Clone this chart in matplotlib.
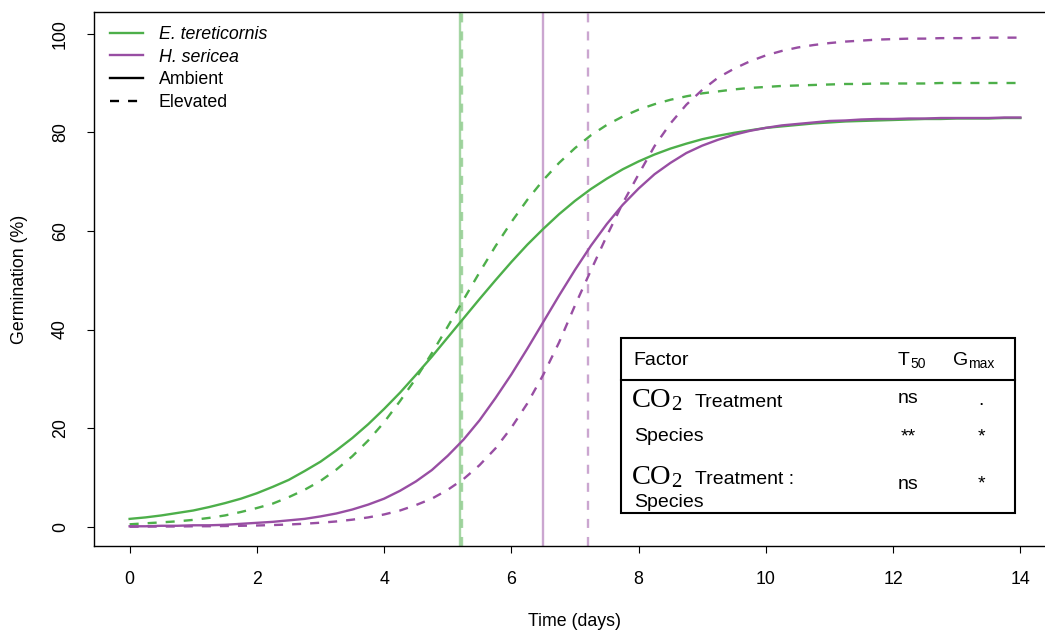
import matplotlib
matplotlib.use('Agg')
import matplotlib.pyplot as plt
from matplotlib.lines import Line2D
from matplotlib.patches import Rectangle

# ---------------- data ----------------
days = [0, 0.25, 0.5, 0.75, 1, 1.25, 1.5, 1.75, 2, 2.25, 2.5, 2.75, 3, 3.25,
        3.5, 3.75, 4, 4.25, 4.5, 4.75, 5, 5.25, 5.5, 5.75, 6, 6.25, 6.5, 6.75,
        7, 7.25, 7.5, 7.75, 8, 8.25, 8.5, 8.75, 9, 9.25, 9.5, 9.75, 10, 10.25,
        10.5, 10.75, 11, 11.25, 11.5, 11.75, 12, 12.25, 12.5, 12.75, 13, 13.25,
        13.5, 13.75, 14]

et_ambient = [1.6, 1.9, 2.3, 2.8, 3.3, 4.0, 4.8, 5.7, 6.8, 8.1, 9.5, 11.3, 13.2,
              15.5, 18.0, 20.8, 23.9, 27.2, 30.8, 34.5, 38.4, 42.3, 46.2, 50.0,
              53.7, 57.2, 60.4, 63.4, 66.1, 68.5, 70.6, 72.5, 74.1, 75.5, 76.7,
              77.7, 78.6, 79.3, 79.9, 80.4, 80.9, 81.2, 81.5, 81.8, 82.0, 82.2,
              82.3, 82.4, 82.5, 82.6, 82.7, 82.7, 82.8, 82.8, 82.8, 82.9, 82.9]
et_elevated = [0.5, 0.7, 0.9, 1.1, 1.4, 1.8, 2.3, 3.0, 3.8, 4.7, 6.0, 7.5, 9.3,
               11.6, 14.3, 17.5, 21.2, 25.5, 30.1, 35.2, 40.6, 46.1, 51.6, 56.9,
               61.8, 66.3, 70.3, 73.8, 76.8, 79.4, 81.5, 83.2, 84.6, 85.7, 86.6,
               87.3, 87.9, 88.3, 88.7, 89.0, 89.2, 89.4, 89.5, 89.6, 89.7, 89.8,
               89.8, 89.9, 89.9, 89.9, 89.9, 90.0, 90.0, 90.0, 90.0, 90.0, 90.0]
hs_ambient = [0.1, 0.1, 0.2, 0.2, 0.3, 0.3, 0.4, 0.6, 0.8, 1.0, 1.3, 1.6, 2.1,
              2.7, 3.5, 4.5, 5.7, 7.3, 9.2, 11.5, 14.4, 17.7, 21.6, 26.1, 30.9,
              36.1, 41.5, 46.9, 52.1, 57.0, 61.4, 65.3, 68.6, 71.5, 73.8, 75.8,
              77.3, 78.5, 79.5, 80.3, 80.9, 81.4, 81.7, 82.0, 82.3, 82.4, 82.6,
              82.7, 82.7, 82.8, 82.8, 82.9, 82.9, 82.9, 82.9, 83.0, 83.0]
hs_elevated = [0.0, 0.04, 0.05, 0.06, 0.1, 0.11, 0.15, 0.2, 0.26, 0.35, 0.46,
               0.62, 0.82, 1.08, 1.44, 1.9, 2.5, 3.3, 4.4, 5.7, 7.5, 9.7, 12.5,
               15.9, 20.1, 25.0, 30.8, 37.4, 44.9, 52.0, 59.0, 65.6, 71.5, 77.2,
               81.8, 85.6, 88.6, 91.1, 92.9, 94.4, 95.6, 96.5, 97.2, 97.7, 98.1,
               98.4, 98.6, 98.8, 98.9, 99.0, 99.0, 99.1, 99.1, 99.1, 99.2, 99.2,
               99.2]

# T50 (days) for each curve
t50_et_ambient = 5.2
t50_et_elevated = 5.22
t50_hs_ambient = 6.5
t50_hs_elevated = 7.2

x_ticks = [0, 2, 4, 6, 8, 10, 12, 14]
y_ticks = [0, 20, 40, 60, 80, 100]

legend_labels = ['E. tereticornis', 'H. sericea', 'Ambient', 'Elevated']

table_t50 = ['ns', '**', 'ns']
table_gmax = ['.', '*', '*']

# ---------------- figure ----------------
GREEN = '#4DAF4A'
PURPLE = '#984EA3'
plt.rcParams['lines.scale_dashes'] = False
plt.rcParams['font.family'] = ['Liberation Sans', 'DejaVu Sans']
DASH = (0, (6.5, 6.5))
LW = 1.7
FS = 12.8

W, H = 1045, 635
fig = plt.figure(figsize=(W / 100, H / 100), dpi=100)


def fx(x):
    return x / W


def fy(y):
    return 1 - y / H


ax = fig.add_axes([fx(94), fy(546), (1056 - 94) / W, (546 - 12) / H])
ax.set_xlim(-0.56, 14.56)
ax.set_ylim(-3.9, 104.4)

# T50 vertical lines
ax.axvline(t50_et_ambient, color=GREEN, alpha=0.5, lw=LW)
ax.axvline(t50_et_elevated, color=GREEN, alpha=0.5, lw=LW, ls=DASH)
ax.axvline(t50_hs_ambient, color=PURPLE, alpha=0.5, lw=LW)
ax.axvline(t50_hs_elevated, color=PURPLE, alpha=0.5, lw=LW, ls=DASH)

# curves
ax.plot(days, et_ambient, color=GREEN, lw=LW)
ax.plot(days, et_elevated, color=GREEN, lw=LW, ls=DASH)
ax.plot(days, hs_ambient, color=PURPLE, lw=LW)
ax.plot(days, hs_elevated, color=PURPLE, lw=LW, ls=DASH)

# axes styling
for s in ax.spines.values():
    s.set_linewidth(1.0)
ax.spines['right'].set_visible(False)
ax.set_xticks(x_ticks)
ax.set_yticks(y_ticks)
ax.tick_params(direction='out', length=5, width=0.8, labelsize=FS, pad=13)
for lab in ax.get_yticklabels():
    lab.set_rotation(90)
    lab.set_va('center')

ax.set_xlabel('Time (days)', fontsize=FS, va='center')
ax.xaxis.set_label_coords(0.5, (546 - 622) / 534)
ax.set_ylabel('Germination (%)', fontsize=FS, va='center', ha='center')
ax.yaxis.set_label_coords((20 - 94) / 962, 0.5)

# legend
handles = [Line2D([], [], color=GREEN, lw=LW),
           Line2D([], [], color=PURPLE, lw=LW),
           Line2D([], [], color='black', lw=LW),
           Line2D([], [], color='black', lw=LW, ls=DASH)]
leg = ax.legend(handles, legend_labels, loc='upper left',
                bbox_to_anchor=(fx(110), fy(26)), bbox_transform=fig.transFigure,
                frameon=False, borderpad=0, borderaxespad=0, handlelength=1.85,
                handletextpad=0.9, labelspacing=0.32, fontsize=FS)
leg.get_texts()[0].set_style('italic')
leg.get_texts()[1].set_style('italic')

# significance table
fig.add_artist(Rectangle((fx(621), fy(513)), fx(1015) - fx(621), fy(338) - fy(513),
                         transform=fig.transFigure, facecolor='white',
                         edgecolor='black', lw=1.5))
fig.add_artist(Line2D([fx(621), fx(1015)], [fy(380), fy(380)],
                      transform=fig.transFigure, color='black', lw=1.5))

SANS = ['Liberation Sans', 'DejaVu Sans']
SERIF = ['Liberation Serif', 'DejaVu Serif']


def t(x, y, s, size=14, family=SANS, ha='left'):
    fig.text(fx(x), fy(y), s, fontsize=size, family=family, ha=ha, va='baseline')


# header
t(633, 365, 'Factor')
t(898, 365, 'T')
t(910, 368, '50', size=10)
t(953, 365, 'G')
t(968, 368, 'max', size=10)
# row 1
t(632, 407, 'CO', size=20.5, family=SERIF)
t(671, 410, '2', size=15, family=SERIF)
t(695, 407, 'Treatment')
# row 2
t(634, 441, 'Species')
# row 3
t(632, 484, 'CO', size=20.5, family=SERIF)
t(671, 487, '2', size=15, family=SERIF)
t(695, 484, 'Treatment :')
t(634, 507, 'Species')

t50_y = [403, 441, 489]
gmax_y = [405, 441, 488]
for i in range(3):
    t(908, t50_y[i], table_t50[i], ha='center')
    t(981, gmax_y[i], table_gmax[i], ha='center')

fig.savefig('out.png', dpi=100)
